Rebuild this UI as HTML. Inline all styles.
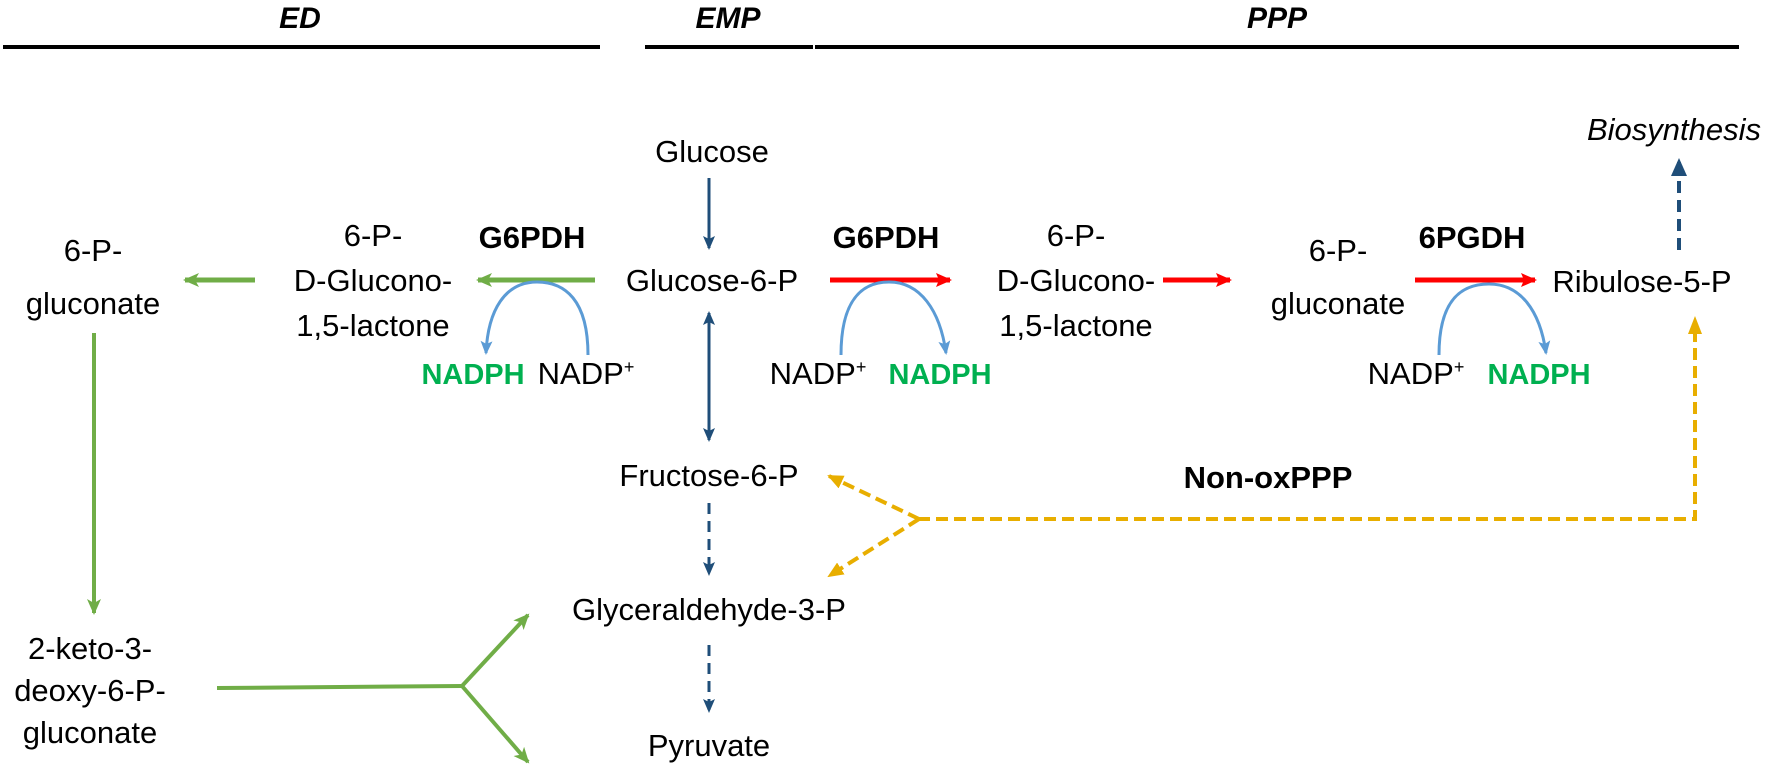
<!DOCTYPE html>
<html><head><meta charset="utf-8"><style>
html,body{margin:0;padding:0;background:#fff;}
svg{display:block;}
text{font-family:"Liberation Sans",sans-serif;font-size:31px;fill:#000;}
.b{font-weight:bold;}
.h{font-weight:bold;font-style:italic;font-size:30px;}
.g{fill:#00b050;font-weight:bold;font-size:29px;}
</style></head><body>
<svg width="1772" height="767" viewBox="0 0 1772 767" xmlns="http://www.w3.org/2000/svg">
<defs>
<marker id="mg" markerWidth="16" markerHeight="14" refX="14" refY="7" orient="auto" markerUnits="userSpaceOnUse"><path d="M0,0 L16,7 L0,14 L4,7 z" fill="#70ad47"/></marker>
<marker id="mr" markerWidth="16" markerHeight="14" refX="14" refY="7" orient="auto" markerUnits="userSpaceOnUse"><path d="M0,0 L16,7 L0,14 L3,7 z" fill="#ff0000"/></marker>
<marker id="md" markerWidth="14" markerHeight="12" refX="12" refY="6" orient="auto" markerUnits="userSpaceOnUse"><path d="M0,0 L14,6 L0,12 L3,6 z" fill="#1f4e79"/></marker>
<marker id="mdb" markerWidth="18" markerHeight="16" refX="16" refY="8" orient="auto" markerUnits="userSpaceOnUse"><path d="M0,0 L18,8 L0,16 z" fill="#1f4e79"/></marker>
<marker id="mds" markerWidth="14" markerHeight="12" refX="2" refY="6" orient="auto" markerUnits="userSpaceOnUse"><path d="M14,0 L0,6 L14,12 L11,6 z" fill="#1f4e79"/></marker>
<marker id="ml" markerWidth="14" markerHeight="12" refX="12" refY="6" orient="auto" markerUnits="userSpaceOnUse"><path d="M0,0 L14,6 L0,12 L3,6 z" fill="#5b9bd5"/></marker>
<marker id="my" markerWidth="16" markerHeight="14" refX="14" refY="7" orient="auto" markerUnits="userSpaceOnUse"><path d="M0,0 L16,7 L0,14 z" fill="#e8ae00"/></marker>
</defs>

<line x1="3" y1="47" x2="600" y2="47" stroke="#000" stroke-width="4"/>
<line x1="645" y1="47" x2="813" y2="47" stroke="#000" stroke-width="4"/>
<line x1="815" y1="47" x2="1739" y2="47" stroke="#000" stroke-width="4"/>
<text class="h" x="300" y="28" text-anchor="middle">ED</text>
<text class="h" x="728" y="28" text-anchor="middle">EMP</text>
<text class="h" x="1277" y="28" text-anchor="middle">PPP</text>

<text x="712" y="162" text-anchor="middle">Glucose</text>
<line x1="709" y1="178" x2="709" y2="248" stroke="#1f4e79" stroke-width="3" marker-end="url(#md)"/>
<text x="712" y="291" text-anchor="middle">Glucose-6-P</text>
<line x1="709" y1="313" x2="709" y2="440" stroke="#1f4e79" stroke-width="3" marker-end="url(#md)" marker-start="url(#mds)"/>
<text x="709" y="486" text-anchor="middle">Fructose-6-P</text>
<line x1="709" y1="503" x2="709" y2="574" stroke="#1f4e79" stroke-width="3" stroke-dasharray="11,7" marker-end="url(#md)"/>
<text x="709" y="620" text-anchor="middle">Glyceraldehyde-3-P</text>
<line x1="709" y1="645" x2="709" y2="711" stroke="#1f4e79" stroke-width="3" stroke-dasharray="11,7" marker-end="url(#md)"/>
<text x="709" y="756" text-anchor="middle">Pyruvate</text>

<text class="b" x="532" y="248" text-anchor="middle">G6PDH</text>
<line x1="595" y1="280" x2="478" y2="280" stroke="#70ad47" stroke-width="5" marker-end="url(#mg)"/>
<text x="373" y="246" text-anchor="middle">6-P-</text>
<text x="373" y="291" text-anchor="middle">D-Glucono-</text>
<text x="373" y="336" text-anchor="middle">1,5-lactone</text>
<line x1="255" y1="280" x2="185" y2="280" stroke="#70ad47" stroke-width="5" marker-end="url(#mg)"/>
<text x="93" y="261" text-anchor="middle">6-P-</text>
<text x="93" y="314" text-anchor="middle">gluconate</text>
<line x1="94" y1="333" x2="94" y2="613" stroke="#70ad47" stroke-width="4" marker-end="url(#mg)"/>
<text x="90" y="659" text-anchor="middle">2-keto-3-</text>
<text x="90" y="701" text-anchor="middle">deoxy-6-P-</text>
<text x="90" y="743" text-anchor="middle">gluconate</text>
<line x1="217" y1="688" x2="462" y2="686" stroke="#70ad47" stroke-width="4"/>
<line x1="462" y1="686" x2="528" y2="615" stroke="#70ad47" stroke-width="4" marker-end="url(#mg)"/>
<line x1="462" y1="686" x2="528" y2="762" stroke="#70ad47" stroke-width="4" marker-end="url(#mg)"/>
<path d="M588,355 C588,300 565,282 537,282 C505,282 488,310 486,353" fill="none" stroke="#5b9bd5" stroke-width="3" marker-end="url(#ml)"/>
<text class="g" x="473" y="384" text-anchor="middle">NADPH</text>
<text x="586" y="384" text-anchor="middle">NADP<tspan font-size="18" dy="-11">+</tspan></text>

<text class="b" x="886" y="248" text-anchor="middle">G6PDH</text>
<line x1="830" y1="280" x2="950" y2="280" stroke="#ff0000" stroke-width="5" marker-end="url(#mr)"/>
<path d="M841,355 C841,300 862,282 889,282 C920,282 940,310 946,353" fill="none" stroke="#5b9bd5" stroke-width="3" marker-end="url(#ml)"/>
<text x="818" y="384" text-anchor="middle">NADP<tspan font-size="18" dy="-11">+</tspan></text>
<text class="g" x="940" y="384" text-anchor="middle">NADPH</text>
<text x="1076" y="246" text-anchor="middle">6-P-</text>
<text x="1076" y="291" text-anchor="middle">D-Glucono-</text>
<text x="1076" y="336" text-anchor="middle">1,5-lactone</text>
<line x1="1163" y1="280" x2="1230" y2="280" stroke="#ff0000" stroke-width="5" marker-end="url(#mr)"/>
<text x="1338" y="261" text-anchor="middle">6-P-</text>
<text x="1338" y="314" text-anchor="middle">gluconate</text>
<text class="b" x="1472" y="248" text-anchor="middle">6PGDH</text>
<line x1="1415" y1="280" x2="1535" y2="280" stroke="#ff0000" stroke-width="5" marker-end="url(#mr)"/>
<path d="M1439,355 C1439,300 1461,284 1489,284 C1520,284 1540,310 1546,353" fill="none" stroke="#5b9bd5" stroke-width="3" marker-end="url(#ml)"/>
<text x="1416" y="384" text-anchor="middle">NADP<tspan font-size="18" dy="-11">+</tspan></text>
<text class="g" x="1539" y="384" text-anchor="middle">NADPH</text>
<text x="1642" y="292" text-anchor="middle">Ribulose-5-P</text>
<text x="1674" y="140" text-anchor="middle" font-style="italic">Biosynthesis</text>
<line x1="1679" y1="250" x2="1679" y2="160" stroke="#1f4e79" stroke-width="4" stroke-dasharray="12,7" marker-end="url(#mdb)"/>

<text class="b" x="1268" y="488" text-anchor="middle">Non-oxPPP</text>
<path d="M1695,330 L1695,519 L919,519" fill="none" stroke="#e8ae00" stroke-width="4" stroke-dasharray="12,6"/>
<path d="M1688,334 L1695,316 L1702,334 z" fill="#e8ae00"/>
<line x1="919" y1="519" x2="829" y2="476" stroke="#e8ae00" stroke-width="4" stroke-dasharray="12,6" marker-end="url(#my)"/>
<line x1="919" y1="519" x2="829" y2="576" stroke="#e8ae00" stroke-width="4" stroke-dasharray="12,6" marker-end="url(#my)"/>
</svg>
</body></html>
